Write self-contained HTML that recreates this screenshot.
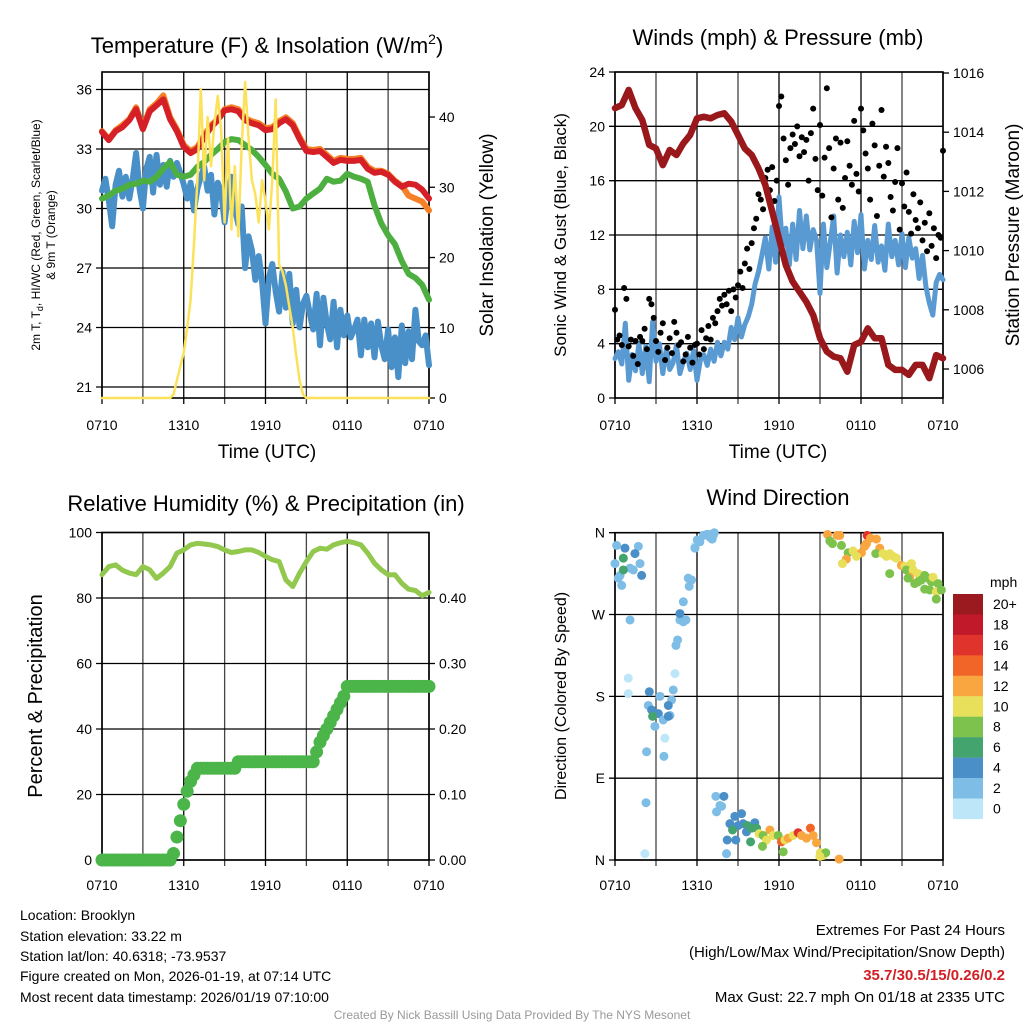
<!DOCTYPE html>
<html><head><meta charset="utf-8"><style>
body{margin:0;background:#fff;}
svg{display:block;font-family:"Liberation Sans",Arial,sans-serif;}
</style></head><body>
<svg id="chart" width="1024" height="1024" viewBox="0 0 1024 1024" xmlns="http://www.w3.org/2000/svg">
<rect width="1024" height="1024" fill="#fff"/>
<g id="g1"></g>
<g id="g2"></g>
<g id="g3"></g>
<g id="g4"></g>

<text x="267" y="53" font-size="22" text-anchor="middle">Temperature (F) &amp; Insolation (W/m<tspan font-size="14" dy="-9">2</tspan><tspan dy="9">)</tspan></text>
<text x="778" y="45" font-size="22" text-anchor="middle">Winds (mph) &amp; Pressure (mb)</text>
<text x="266" y="511" font-size="22" text-anchor="middle">Relative Humidity (%) &amp; Precipitation (in)</text>
<text x="778" y="505" font-size="22" text-anchor="middle">Wind Direction</text>

<text transform="translate(40,235) rotate(-90)" font-size="12" text-anchor="middle">2m T, T<tspan font-size="9" dy="3">d</tspan><tspan dy="-3">, HI/WC (Red, Green, Scarlet/Blue)</tspan></text>
<text transform="translate(55,235) rotate(-90)" font-size="12" text-anchor="middle">&amp; 9m T (Orange)</text>
<text transform="translate(493,235) rotate(-90)" font-size="19" text-anchor="middle">Solar Insolation (Yellow)</text>
<text x="267" y="458" font-size="19" text-anchor="middle">Time (UTC)</text>
<text transform="translate(566,235) rotate(-90)" font-size="17" text-anchor="middle">Sonic Wind &amp; Gust (Blue, Black)</text>
<text transform="translate(1019,235) rotate(-90)" font-size="19" text-anchor="middle">Station Pressure (Maroon)</text>
<text x="778" y="458" font-size="19" text-anchor="middle">Time (UTC)</text>
<text transform="translate(42,696) rotate(-90)" font-size="20" text-anchor="middle">Percent &amp; Precipitation</text>
<text transform="translate(566,696) rotate(-90)" font-size="16" text-anchor="middle">Direction (Colored By Speed)</text>

<g font-size="14">
<text x="20" y="920">Location: Brooklyn</text>
<text x="20" y="941">Station elevation: 33.22 m</text>
<text x="20" y="961">Station lat/lon: 40.6318; -73.9537</text>
<text x="20" y="981">Figure created on Mon, 2026-01-19, at 07:14 UTC</text>
<text x="20" y="1002">Most recent data timestamp: 2026/01/19 07:10:00</text>
</g>
<g font-size="15" text-anchor="end">
<text x="1005" y="935">Extremes For Past 24 Hours</text>
<text x="1005" y="957">(High/Low/Max Wind/Precipitation/Snow Depth)</text>
<text x="1005" y="980" fill="#d21f26" font-weight="bold">35.7/30.5/15/0.26/0.2</text>
<text x="1005" y="1002">Max Gust: 22.7 mph On 01/18 at 2335 UTC</text>
</g>
<text x="512" y="1019" font-size="12" fill="#999" text-anchor="middle">Created By Nick Bassill Using Data Provided By The NYS Mesonet</text>
</svg>
<script>
const xLabels=["0710","1310","1910","0110","0710"];
const tempTicks=[36,33,30,27,24,21];
const insolTicks=[0,10,20,30,40];
const windTicks=[0,4,8,12,16,20,24];
const presTicks=[1006,1008,1010,1012,1014,1016];
const pctTicks=[0,20,40,60,80,100];
const precipTicks=[0,0.1,0.2,0.3,0.4];
const dirTicks=[0,90,180,270,360];
const dirLabels=["N","E","S","W","N"];
// half-hourly
const tempRed=[33.86,33.45,33.9,34.1,34.45,35.0,34.0,34.9,35.2,35.5,34.5,33.9,33.1,32.8,33.0,33.6,34.1,34.45,34.95,35.0,34.9,34.45,34.3,34.2,33.95,34.0,34.3,34.5,34.2,33.5,32.9,32.85,32.9,32.6,32.3,32.45,32.4,32.4,32.45,32.0,31.8,31.85,31.7,31.35,31.1,31.25,31.2,30.95,30.5];
const tempOrange=[33.9,33.5,33.95,34.2,34.5,35.1,34.1,35.0,35.3,35.7,34.6,34.0,33.2,32.9,33.1,33.7,34.2,34.5,35.0,35.1,35.0,34.55,34.4,34.3,34.05,34.1,34.4,34.6,34.3,33.6,33.0,32.95,33.0,32.7,32.4,32.55,32.5,32.5,32.55,32.1,31.9,31.9,31.75,31.4,31.15,30.65,30.5,30.35,29.9];
const tempGreen=[30.5,30.65,30.9,31.0,31.2,31.25,31.4,31.35,31.6,32.0,32.35,31.7,31.6,31.7,32.1,32.35,32.7,33.0,33.35,33.5,33.45,33.2,32.95,32.6,32.2,31.75,31.5,30.85,30.0,30.1,30.5,30.75,31.0,31.5,31.35,31.4,31.75,31.6,31.5,31.35,30.15,29.25,28.65,28.2,27.35,26.7,26.5,26.15,25.4];
// quarter-hourly
const tempBlue=[30.9,31.5,30.4,29.1,31.2,31.9,30.6,31.6,30.5,31.5,32.8,31.0,30.0,32.0,32.6,30.8,32.7,31.2,32.2,31.1,32.4,31.6,32.3,31.8,31.2,30.5,31.3,29.9,31.0,31.6,32.1,30.9,31.7,29.7,31.3,30.8,29.3,30.7,31.6,30.0,29.2,30.1,27.0,28.6,27.9,26.4,27.6,26.3,24.2,26.5,27.2,25.8,24.8,26.8,25.0,26.7,24.2,25.9,24.0,25.2,25.6,24.7,23.9,25.7,23.1,25.5,24.2,23.4,25.3,23.0,24.9,23.6,24.6,23.5,23.9,24.4,22.6,24.4,23.0,24.2,22.5,24.3,23.1,22.4,23.9,22.0,23.5,21.5,24.1,22.2,23.8,22.4,24.9,23.3,23.1,23.6,22.1];
const insol=[0,0,0,0,0,0,0,0,0,0,0,0,0,0,0,0,0,0,0,0,0,0.5,2.5,4.5,6.5,10,14,22,31,44,31,40,33,39,43,38,25,37,24,33,23,36,45,37,31,29,25,31,28,24,31,42.5,19,18,16,13,10,6,2.5,0.5,0,0,0,0,0,0,0,0,0,0,0,0,0,0,0,0,0,0,0,0,0,0,0,0,0,0,0,0,0,0,0,0,0,0,0,0,0];
// half-hourly
const pressure=[1014.81,1014.92,1015.43,1014.81,1014.41,1013.57,1013.45,1012.89,1013.4,1013.23,1013.62,1013.91,1014.47,1014.52,1014.47,1014.58,1014.64,1014.36,1013.91,1013.45,1013.23,1012.78,1012.22,1011.32,1010.41,1009.51,1008.95,1008.61,1008.27,1007.82,1007.04,1006.59,1006.42,1006.36,1005.91,1006.81,1006.92,1007.37,1007.04,1007.04,1006.14,1005.97,1005.97,1005.8,1006.14,1006.14,1005.69,1006.47,1006.36];
const wind=[2.9,3.4,2.5,5.5,1.3,3.2,2.0,4.0,1.8,3.8,1.2,5.6,2.7,4.0,1.8,3.6,2.1,2.6,3.9,1.8,2.7,3.3,2.1,3.5,1.3,2.8,3.2,2.4,3.6,2.7,4.1,3.1,4.1,3.6,5.2,4.3,5.9,4.5,5.4,6.0,6.9,8.4,9.3,10.5,11.8,9.5,12.6,10.0,14.8,11.2,12.5,9.8,12.8,10.2,13.8,11.0,13.4,10.9,12.4,11.6,7.7,12.8,9.6,11.5,13.4,9.2,12.0,10.4,12.2,9.8,13.0,10.7,13.5,9.5,11.6,10.2,12.7,10.0,11.2,9.4,12.8,10.4,11.6,9.8,12.1,9.6,11.8,10.3,11.0,8.8,10.5,8.2,7.0,6.1,8.5,9.1,8.7];
// every 10 minutes
const gust=[6.5,4.3,4.6,3.9,8.1,7.3,3.8,4.3,3.1,4.2,2.5,4.5,4.2,5.1,3.6,7.3,6.9,5.9,4.2,3.4,4.8,5.5,2.8,3.7,4.4,3.3,5.6,4.8,3.9,4.1,2.7,3.2,4.5,3.7,2.6,3.9,4.0,3.2,5.0,3.6,4.4,5.3,4.3,5.9,5.5,6.4,7.3,6.8,7.6,6.9,7.9,6.4,8.0,7.4,8.3,9.3,8.1,9.9,11.0,9.5,11.4,12.5,13.2,15.0,14.6,13.9,16.2,16.8,15.3,17.0,14.5,16.0,21.5,22.2,19.1,17.5,15.7,18.4,19.4,18.7,20.0,17.8,19.2,18.1,19.0,16.0,19.5,21.3,17.6,15.3,20.1,14.9,17.7,22.8,18.4,13.3,16.9,19.1,14.6,18.8,14.0,16.2,18.9,17.1,15.7,20.4,16.5,15.2,21.3,19.7,18.0,16.9,14.6,20.2,18.6,13.4,17.1,21.2,16.3,18.5,17.3,14.8,13.8,15.9,18.4,12.4,15.8,14.1,16.6,13.7,12.1,15.0,13.1,12.5,14.4,11.6,12.9,10.8,13.6,11.2,12.5,10.3,12.0,11.8,18.2];
// half-hourly RH
const rh=[87.1,89.6,90.1,88.5,87.6,87.1,89.6,88.6,86.0,87.6,89.6,93.7,94.7,96.2,96.7,96.5,96.2,95.7,94.7,93.9,94.2,94.7,94.7,93.9,92.7,91.7,91.1,85.5,83.5,87.6,91.1,94.2,95.2,94.9,96.2,96.9,97.3,96.9,96.2,93.7,90.6,88.6,87.1,87.1,84.5,82.7,82.3,80.7,81.7];
// quarter-hourly precip
const precip=[0,0,0,0,0,0,0,0,0,0,0,0,0,0,0,0,0,0,0,0,0,0.01,0.035,0.06,0.085,0.105,0.12,0.13,0.14,0.14,0.14,0.14,0.14,0.14,0.14,0.14,0.14,0.14,0.14,0.14,0.15,0.15,0.15,0.15,0.15,0.15,0.15,0.15,0.15,0.15,0.15,0.15,0.15,0.15,0.15,0.15,0.15,0.15,0.15,0.15,0.15,0.15,0.15,0.165,0.18,0.19,0.2,0.21,0.22,0.23,0.24,0.25,0.265,0.265,0.265,0.265,0.265,0.265,0.265,0.265,0.265,0.265,0.265,0.265,0.265,0.265,0.265,0.265,0.265,0.265,0.265,0.265,0.265,0.265,0.265,0.265,0.265];
// wind direction scatter
const wdHour=[0.12,0.73,1.71,1.46,0.61,0,0.37,1.1,1.83,0.61,1.95,1.34,0.24,0.49,1.1,0.97,0.97,2.51,3.29,4.14,2.44,3.9,2.68,3.17,2.75,4.02,3.53,3.9,2.92,3.65,2.31,3.58,4.26,4.39,2.27,2.19,4.46,4.58,4.75,5.0,5.19,4.75,5.0,5.43,5.6,5.36,5.85,6.02,6.75,7.11,5.85,6.21,6.7,6.94,7.19,6.46,7.26,6.94,8.16,7.38,7.97,7.68,7.43,7.8,8.77,9.26,8.41,9.02,8.6,9.38,9.67,10.23,9.62,9.99,8.84,8.21,9.92,10.36,10.55,10.84,11.33,11.09,10.79,11.57,11.94,12.18,12.43,12.31,12.67,13.04,13.4,13.65,14.01,14.3,14.5,14.74,15.03,15.23,15.42,14.99,16.4,15.55,16.25,16.45,15.72,15.91,16.57,17.06,17.42,18.03,17.67,16.93,16.64,18.45,18.69,19.13,18.4,18.27,19.37,19.08,19.61,19.86,20.1,20.35,20.59,20.96,21.2,21.69,21.32,21.81,21.56,22.17,22.42,22.66,22.9,23.15,23.27,23.64,22.17,22.66,23.03,23.51,23.88,23.51,21.44,21.93,20.1];
const wdDir=[346,343,345,337,332,326,313,321,326,319,313,319,310,302,264,200,183,185,180,176,170,170,165,161,158,159,154,158,147,134,119,114,187,205,63,7,236,242,264,262,264,271,284,301,308,310,345,352,358,353,343,350,358,358,357,357,360,355,7,70,70,60,53,59,48,51,40,38,33,40,38,41,31,35,22,22,20,35,29,27,33,22,15,27,27,20,22,9,24,27,30,27,24,35,27,19,8,5,8,4,1,358,357,357,351,348,346,338,340,338,334,331,326,357,354,353,348,345,343,337,337,334,337,334,332,324,323,326,319,319,311,315,308,313,310,306,311,304,306,298,297,295,297,287,310,304,315];
const wdSpeed=[3,4,2,4,6,2,2,2,2,6,4,2,2,2,2,1,1,4,2,2,2,4,4,4,6,2,2,4,2,1,2,2,2,1,2,1,2,2,2,2,2,4,2,2,2,2,1,2,2,2,2,2,2,2,2,2,2,2,2,2,4,2,2,2,4,4,4,4,6,4,6,4,4,6,4,4,6,6,10,8,12,10,8,10,8,14,10,8,12,10,16,12,12,14,12,12,10,10,8,10,12,12,12,12,8,8,8,8,10,12,10,12,10,16,12,12,12,12,12,8,10,10,10,10,10,12,10,10,8,10,12,10,8,8,8,8,10,8,8,8,8,10,8,8,8,8,8,12];
const speedBins=["0","2","4","6","8","10","12","14","16","18","20+"];
const speedColors=["#bde6f8","#7dbde6","#4a8fc7","#44a46e","#7cc24c","#e8df5a","#f9a640","#f26529","#e0332b","#c1182a","#9b1a1f"];

const NS="http://www.w3.org/2000/svg";
function el(parent,tag,attrs){const e=document.createElementNS(NS,tag);for(const k in attrs)e.setAttribute(k,attrs[k]);parent.appendChild(e);return e;}
function lin(d0,d1,r0,r1){return v=>r0+(v-d0)*(r1-r0)/(d1-d0);}

function frame(g,x0,x1,y0,y1,yF,lTicks,lLabels,rTicks,rF,rLabels,xLabY){
  const xs=lin(0,24,x0,x1);
  for(let h=0;h<=24;h+=3){const l=el(g,'line',{x1:xs(h),x2:xs(h),y1:y0,y2:y1+6,stroke:(h%6===0)?'#000':'#444','stroke-width':1.3});
    
    }
  lTicks.forEach((v,i)=>{const y=yF(v);const l=el(g,'line',{x1:x0-6,x2:x1,y1:y,y2:y,stroke:'#000','stroke-width':1.3});
    
    
    const t=el(g,'text',{x:x0-10,y:y+5,'font-size':14,'text-anchor':'end'});t.textContent=lLabels[i];
    
    });
  if(rTicks){rTicks.forEach((v,i)=>{const y=rF(v);const l=el(g,'line',{x1:x1,x2:x1+6,y1:y,y2:y,stroke:'#000','stroke-width':1.3});
    
    
    const t=el(g,'text',{x:x1+10,y:y+5,'font-size':14});t.textContent=rLabels[i];
    
    });}
  const r=el(g,'rect',{x:x0,y:y0,width:x1-x0,height:y1-y0,fill:'none',stroke:'#000','stroke-width':1.6});
  
  
  xLabels.forEach((s,i)=>{const t=el(g,'text',{x:xs(i*6),y:xLabY,'font-size':14,'text-anchor':'middle'});t.textContent=s;
    
    });
  return xs;
}
function line(g,arr,step,xs,yF,color,w,name){
  const d=arr.map((v,i)=>(i?'L':'M')+xs(Math.min(24,i*step)).toFixed(1)+','+yF(v).toFixed(1)).join('');
  const p=el(g,'path',{d:d,fill:'none',stroke:color,'stroke-width':w,'stroke-linejoin':'round','stroke-linecap':'round'});
  
  
}

// Panel 1
const g1=document.getElementById('g1');
const tY=lin(36,21,89.5,387),iY=lin(0,40,398,117);
const xs1=frame(g1,102,429,72,398,tY,tempTicks,tempTicks.map(String),insolTicks,iY,insolTicks.map(String),430);
line(g1,tempBlue,0.25,xs1,tY,'#4a90c8',6,'dewpoint-line');
line(g1,tempGreen,0.5,xs1,tY,'#4daf3f',6,'heat-index-line');
line(g1,tempOrange,0.5,xs1,tY,'#f58025',6,'9m-temperature-line');
line(g1,tempRed,0.5,xs1,tY,'#d62027',6,'2m-temperature-line');
line(g1,insol,0.25,xs1,iY,'#fbe25a',2.5,'insolation-line');

// Panel 2
const g2=document.getElementById('g2');
const wY=lin(0,24,398,72),pY=lin(1006,1016,369,73);
const xs2=frame(g2,615,943,72,398,wY,windTicks,windTicks.map(String),presTicks,pY,presTicks.map(String),430);
line(g2,wind,0.25,xs2,wY,'#5a9ad2',5,'sonic-wind-line');
gust.forEach((v,i)=>{const c=el(g2,'circle',{cx:xs2(i/6),cy:wY(v),r:3,fill:'#000'});
  
  });
line(g2,pressure,0.5,xs2,pY,'#99181c',6.5,'pressure-line');

// Panel 3
const g3=document.getElementById('g3');
const hY=lin(0,100,860,532.5),prY=lin(0,0.5,860,532.5);
const xs3=frame(g3,102,429,532.5,860,hY,pctTicks,pctTicks.map(String),precipTicks,prY,precipTicks.map(v=>v.toFixed(2)),890);
line(g3,rh,0.5,xs3,hY,'#92c84e',5,'humidity-line');
precip.forEach((v,i)=>{const c=el(g3,'circle',{cx:xs3(i*0.25),cy:prY(v),r:6.5,fill:'#4bb54a'});
  
  });

// Panel 4
const g4=document.getElementById('g4');
const dY=lin(0,360,860,532.7);
const xs4=frame(g4,615,943,532.7,860,dY,dirTicks,dirLabels,null,null,null,890);
wdHour.forEach((h,i)=>{const b=Math.min(10,Math.floor(wdSpeed[i]/2));
  const c=el(g4,'circle',{cx:xs4(h),cy:dY(wdDir[i]),r:4.5,fill:speedColors[b]});
  
  });
// colorbar
const cb=el(g4,'g',{});


const ct=el(cb,'text',{x:990,y:587,'font-size':14});ct.textContent='mph';


speedBins.forEach((s,i)=>{const k=10-i;const y=594+i*20.45;
  const r=el(cb,'rect',{x:953,y:y,width:30,height:20.6,fill:speedColors[k]});
  
  
  const t=el(cb,'text',{x:993,y:y+15,'font-size':14});t.textContent=speedBins[k];
  
  });
</script>
</body></html>
